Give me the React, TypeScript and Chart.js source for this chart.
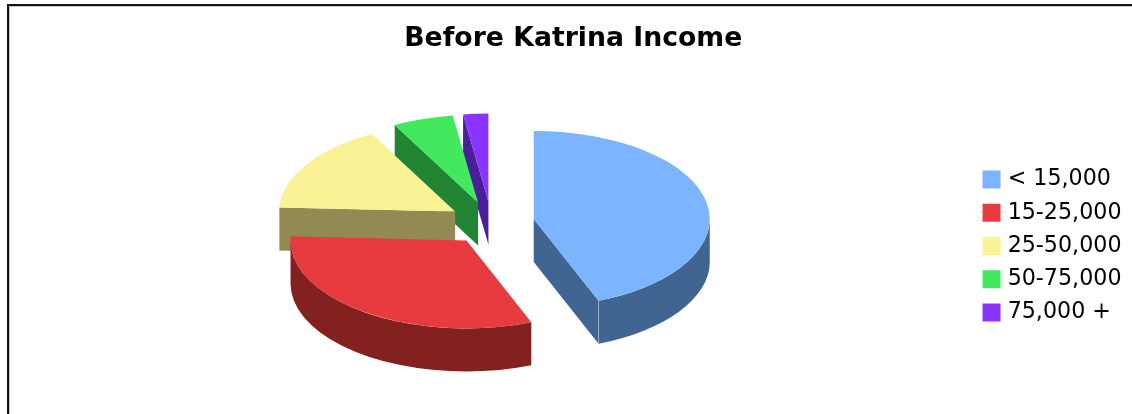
import React, { useEffect, useRef } from "react";
import { Chart, registerables } from "chart.js";

Chart.register(...registerables);

const chartTitle = "Before Katrina Income";
const categories = ["< 15,000", "15-25,000", "25-50,000", "50-75,000", "75,000 +"];
const shares = [44, 31.75, 16.4, 5.55, 2.3];
const topColors = ["#7DB4FF", "#E83B40", "#FBF295", "#42E85E", "#8A35FF"];
const wallColors = ["#3F6590", "#832020", "#928A52", "#238533", "#4A1F9A"];
const paintOrder = [4, 3, 2, 0, 1];

const pie3d = {
  id: "pie3d",
  beforeDatasetDraw(chart: any, args: any, opts: any) {
    const { ctx } = chart;
    const { explode, depth, tilt, shiftX, shiftY } = opts;
    const arcs = args.meta.data;
    for (const i of paintOrder) {
      const arc = arcs[i];
      const { x, y, startAngle: a0, endAngle: a1, outerRadius: r } = arc.getProps(
        ["x", "y", "startAngle", "endAngle", "outerRadius"],
        true
      );
      const mid = (a0 + a1) / 2;
      const cx = x + shiftX + Math.cos(mid) * explode;
      const cy = y + shiftY + Math.sin(mid) * explode * tilt;
      const px = (a: number) => cx + Math.cos(a) * r;
      const py = (a: number) => cy + Math.sin(a) * r * tilt;

      ctx.save();
      ctx.fillStyle = wallColors[i];
      const face = (a: number) => {
        ctx.beginPath();
        ctx.moveTo(cx, cy);
        ctx.lineTo(px(a), py(a));
        ctx.lineTo(px(a), py(a) + depth);
        ctx.lineTo(cx, cy + depth);
        ctx.closePath();
        ctx.fill();
      };
      if (Math.cos(a0) < -1e-6) face(a0);
      if (Math.cos(a1) > 1e-6) face(a1);

      const rimStart = Math.max(a0, 0);
      const rimEnd = Math.min(a1, Math.PI);
      if (rimEnd > rimStart) {
        ctx.beginPath();
        ctx.ellipse(cx, cy, r, r * tilt, 0, rimStart, rimEnd);
        ctx.ellipse(cx, cy + depth, r, r * tilt, 0, rimEnd, rimStart, true);
        ctx.closePath();
        ctx.fill();
        if (Math.cos(a1) > 1e-6) {
          ctx.strokeStyle = "rgba(255,255,255,0.3)";
          ctx.lineWidth = 1;
          ctx.beginPath();
          ctx.moveTo(px(a1), py(a1));
          ctx.lineTo(px(a1), py(a1) + depth);
          ctx.stroke();
        }
      }

      ctx.translate(cx, cy);
      ctx.scale(1, tilt);
      ctx.translate(-x, -y);
      arc.draw(ctx);
      ctx.restore();
    }
    return false;
  },
};

export default function App() {
  const ref = useRef<HTMLCanvasElement>(null);
  useEffect(() => {
    const chart = new Chart(ref.current!, {
      type: "pie",
      plugins: [pie3d],
      data: {
        labels: categories,
        datasets: [
          {
            data: shares,
            backgroundColor: topColors,
            borderWidth: 0,
            radius: 176,
          },
        ],
      },
      options: {
        responsive: false,
        animation: false,
        layout: { padding: { left: 15, right: 0.5 } },
        plugins: {
          tooltip: { enabled: false },
          title: {
            display: true,
            text: chartTitle,
            color: "#000",
            font: { family: "'DejaVu Sans'", size: 26.7, weight: "bold" },
            padding: { top: 23, bottom: 23 },
          },
          legend: {
            position: "right",
            fullSize: false,
            labels: {
              color: "#000",
              font: { family: "'DejaVu Sans'", size: 22.2 },
              boxWidth: 10,
              boxHeight: 10,
              padding: 11,
              generateLabels: () =>
                categories.map((text, i) => ({
                  text,
                  fillStyle: topColors[i],
                  strokeStyle: topColors[i],
                  lineWidth: 8,
                  index: i,
                })),
            },
          },
          pie3d: { explode: 43, depth: 43, tilt: 0.5, shiftX: -3.75, shiftY: -23 },
        } as any,
      },
    });
    return () => chart.destroy();
  }, []);
  return (
    <div style={{ position: "fixed", inset: 0, overflow: "hidden", background: "#fff" }}>
      <div
        style={{
          position: "absolute",
          left: 7,
          top: 4,
          right: -4,
          bottom: -4,
          borderTop: "2px solid #111",
          borderLeft: "2px solid #111",
          boxShadow: "inset 1px 1px 0 #ccc",
        }}
      />
      <canvas
        ref={ref}
        width={1132}
        height={414}
        style={{ position: "absolute", left: 0, top: 0, display: "block" }}
      />
    </div>
  );
}
